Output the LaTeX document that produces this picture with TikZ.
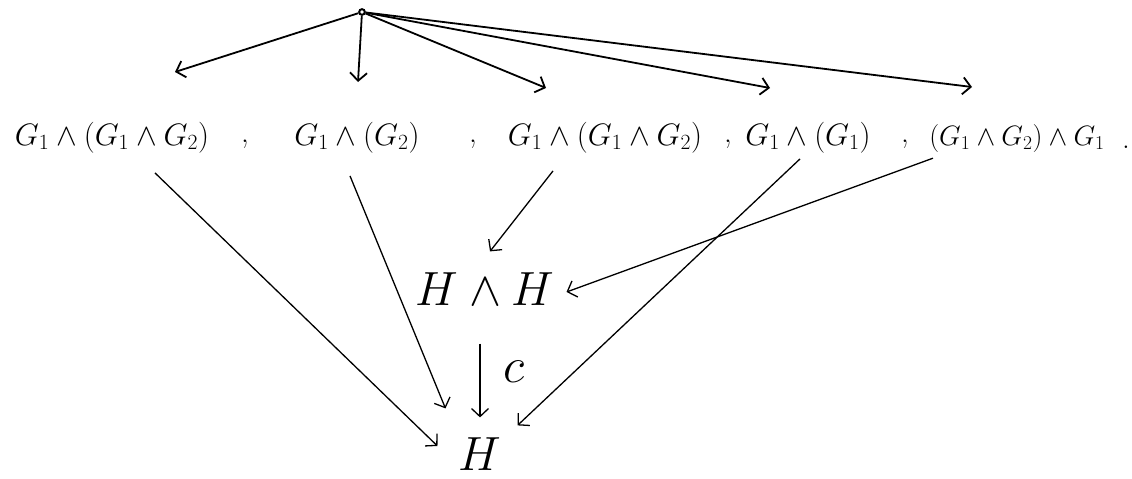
\RequirePackage{fix-cm}
\documentclass[tikz,border=0pt]{standalone}
\usepackage{amsmath,amssymb}
\usetikzlibrary{arrows.meta,calc}
\begin{document}
\begin{tikzpicture}[x=1pt,y=-1pt,>={Straight Barb[length=8pt,width=17pt]},
    term/.style={inner sep=0pt,anchor=base,font=\fontsize{31}{34}\selectfont},
    big/.style={inner sep=2pt,font=\fontsize{48}{52}\selectfont},
    topline/.style={->,line width=1.8pt},
    downline/.style={->,line width=1.3pt}]
  \useasboundingbox (0,0) rectangle (1132,479);
  % the point at the top and where its arrows end
  \node[circle,draw,line width=2pt,inner sep=2pt] (src) at (362,12) {};
  \coordinate (e1) at (175,72);
  \coordinate (e2) at (358,82);
  \coordinate (e3) at (546,88);
  \coordinate (e4) at (770,88);
  \coordinate (e5) at (972,87);
  \foreach \i in {1,...,5}
    \draw[topline] (src) -- (e\i);
  % the row of terms
  \node[term] (t1) at (112,145) {$G_1\wedge(G_1\wedge G_2)$};
  \node[term] (k1) at (245,142) {,};
  \node[term] (t2) at (357,145) {$G_1\wedge(G_2)$};
  \node[term] (k2) at (473,142) {,};
  \node[term] (t3) at (605,145) {$G_1\wedge(G_1\wedge G_2)$};
  \node[term] (k3) at (728,142) {,};
  \node[term] (t4) at (808,145) {$G_1\wedge(G_1)$};
  \node[term] (k4) at (905,142) {,};
  \node[term,font=\fontsize{28}{31}\selectfont] (t5) at (1017,145) {$(G_1\wedge G_2)\wedge G_1$};
  \node[term] (k5) at (1126,148) {.};
  % the two targets
  \node[big] (hh) at (485,289) {$H\wedge H$};
  \node[big] (h) at (480,454) {$H$};
  \draw[downline,shorten <=36pt,shorten >=18pt] (h.north |- hh.south) -- (h.north)
    node[midway,right=20pt,font=\fontsize{50}{54}\selectfont] (lc) {$c$};
  \draw[downline] ($(t1.south)+(43,20)$) -- ($(h.west)+(-19,-8)$);
  \draw[downline] ($(t2.south)+(-7,23)$) -- ($(h.north west)+(-11,-27)$);
  \draw[downline] ($(t3.south)+(-52,18)$) -- ($(hh.north)+(5,-19)$);
  \draw[downline] ($(t4.south)+(-8,6)$) -- ($(h.north east)+(14,-10)$);
  \draw[downline] ($(t5.south)+(-84,6)$) -- ($(hh.east)+(10,3)$);
\end{tikzpicture}
\end{document}
